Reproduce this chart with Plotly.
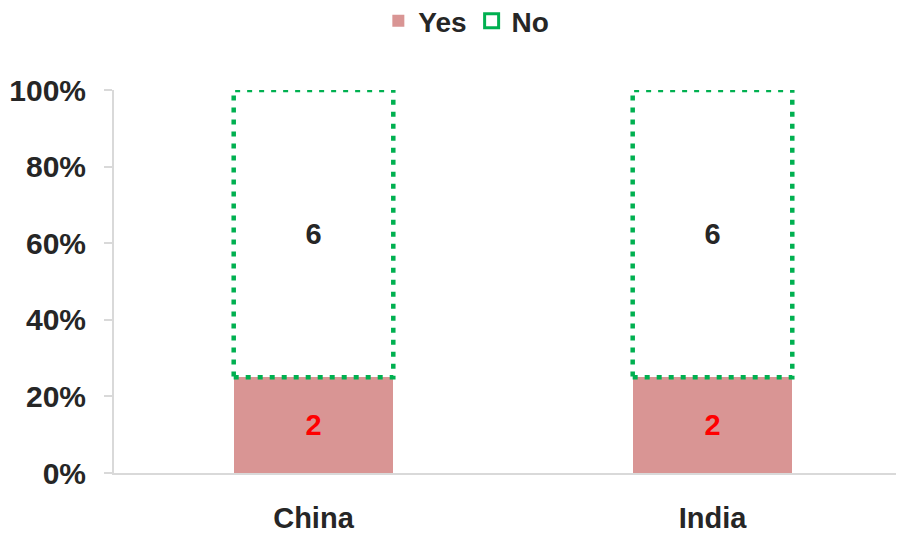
import plotly.graph_objects as go

categories = ["China", "India"]
yes_values = [2, 2]
no_values = [6, 6]
y_tick_vals = [0, 20, 40, 60, 80, 100]
y_tick_text = ["0%", "20%", "40%", "60%", "80%", "100%"]

YES_COLOR = "#D99594"
NO_LINE = "#00B050"
TEXT_DARK = "#262626"
FONT = "Liberation Sans"
BAR_W = 0.4

fig = go.Figure()
fig.add_trace(go.Bar(
    x=categories, y=yes_values, name="Yes", width=BAR_W,
    marker=dict(color=YES_COLOR, line=dict(width=0)),
    text=[str(v) for v in yes_values], textposition="inside",
    insidetextanchor="middle", textangle=0, constraintext="none",
    textfont=dict(family=FONT, size=29, color="#FF0000", weight="bold"),
    showlegend=True, hoverinfo="skip",
))
fig.add_trace(go.Bar(
    x=categories, y=no_values, name="No", width=BAR_W,
    marker=dict(color="rgba(255,255,255,0)", line=dict(width=0)),
    text=[str(v) for v in no_values], textposition="inside",
    insidetextanchor="middle", textangle=0, constraintext="none",
    textfont=dict(family=FONT, size=29, color=TEXT_DARK, weight="bold"),
    showlegend=False, hoverinfo="skip",
))
# legend entry for "No" (dotted green outline square)
fig.add_trace(go.Scatter(
    x=[None], y=[None], mode="markers", name="No",
    marker=dict(symbol="square-open", size=14, color=NO_LINE, line=dict(width=3, color=NO_LINE)),
    showlegend=True,
))

# dotted outline of the "No" segments, computed from the data
for i, (yv, nv) in enumerate(zip(yes_values, no_values)):
    total = yv + nv
    fig.add_shape(
        type="rect", xref="x", yref="y",
        x0=i - BAR_W / 2, x1=i + BAR_W / 2,
        y0=100 * yv / total, y1=100.0,
        line=dict(color=NO_LINE, width=4.5, dash="5px,7px"),
        fillcolor="rgba(0,0,0,0)", layer="above",
    )

fig.update_layout(
    barmode="stack", barnorm="percent",
    width=896, height=528,
    margin=dict(l=106, r=0, t=82, b=63, autoexpand=False),
    paper_bgcolor="white", plot_bgcolor="white",
    font=dict(family=FONT, size=28, color=TEXT_DARK, weight="bold"),
    legend=dict(orientation="h", traceorder="normal",
                x=0.446, xanchor="center", y=1.18, yanchor="middle", yref="paper",
                font=dict(family=FONT, size=28, color=TEXT_DARK, weight="bold"),
                itemwidth=30, tracegroupgap=0),
    showlegend=True,
)
fig.update_xaxes(
    type="category", range=[-0.5, 1.48], automargin=False,
    showline=True, linecolor="#D9D9D9", linewidth=2,
    ticks="", showgrid=False, zeroline=False,
    tickfont=dict(family=FONT, size=29, color=TEXT_DARK, weight="bold"),
    ticklabelstandoff=18,
)
fig.update_yaxes(
    range=[0, 100], tickvals=y_tick_vals, ticktext=y_tick_text, automargin=False,
    showline=True, linecolor="#D9D9D9", linewidth=2,
    ticks="outside", ticklen=8, tickcolor="#D9D9D9", tickwidth=2,
    showgrid=False, zeroline=False,
    tickfont=dict(family=FONT, size=30, color=TEXT_DARK, weight="bold"),
    ticklabelstandoff=12,
)

fig.write_html("out.html")
